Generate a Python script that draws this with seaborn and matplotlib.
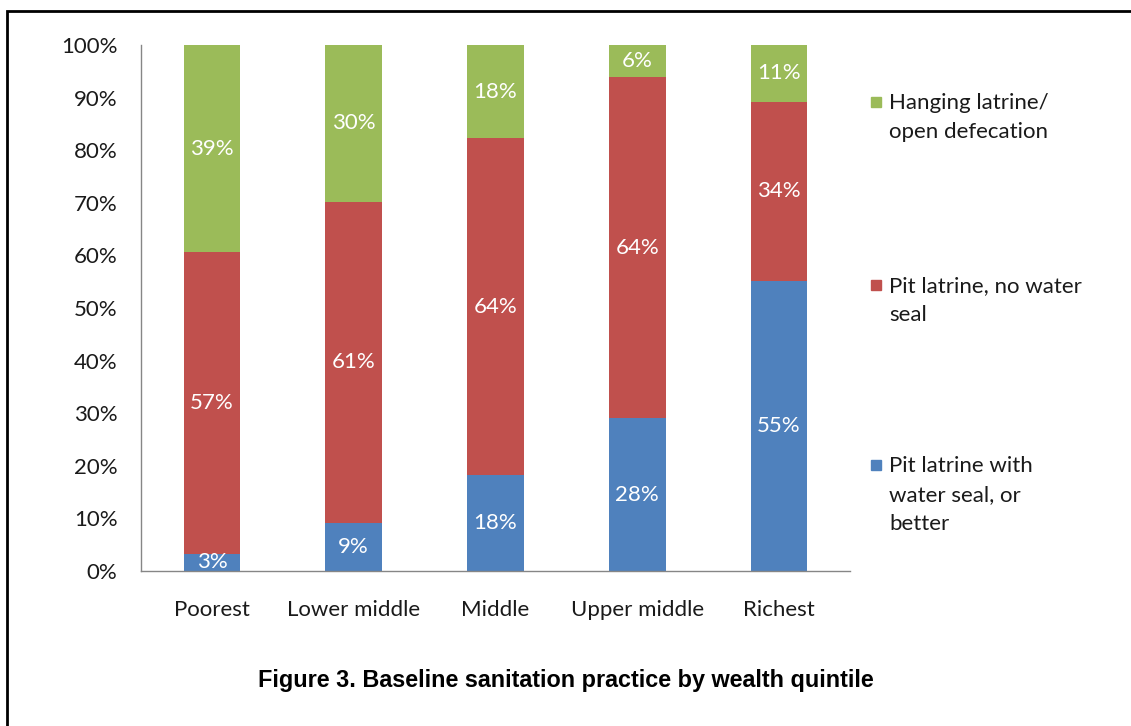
import matplotlib
matplotlib.use("Agg")
import matplotlib.pyplot as plt
from matplotlib.patches import Rectangle
import seaborn as sns
import pandas as pd

categories = ["Poorest", "Lower middle", "Middle", "Upper middle", "Richest"]
water_seal = [3.3, 9.2, 18.2, 29.0, 55.1]          # Pit latrine with water seal, or better
no_seal = [57.3, 61.0, 64.1, 64.9, 34.1]           # Pit latrine, no water seal
open_def = [39.4, 29.8, 17.7, 6.1, 10.8]           # Hanging latrine / open defecation
label_water = ["3%", "9%", "18%", "28%", "55%"]
label_noseal = ["57%", "61%", "64%", "64%", "34%"]
label_open = ["39%", "30%", "18%", "6%", "11%"]
series_names = ["Pit latrine with\nwater seal, or\nbetter",
                "Pit latrine, no water\nseal",
                "Hanging latrine/\nopen defecation"]
colors = ["#4F81BD", "#C0504D", "#9BBB59"]
y_ticks = [0, 10, 20, 30, 40, 50, 60, 70, 80, 90, 100]
title = "Figure 3. Baseline sanitation practice by wealth quintile"

sns.set_theme(style="white")
plt.rcParams["font.family"] = ["Lato", "DejaVu Sans"]

W, H = 1131, 726
fig = plt.figure(figsize=(W / 100, H / 100), dpi=100)
ax = fig.add_axes([141 / W, 1 - 571 / H, (850 - 141) / W, (571 - 45) / H])

bottoms = [0] * len(categories)
layers = [(water_seal, label_water), (no_seal, label_noseal), (open_def, label_open)]
for (vals, labs), col in zip(layers, colors):
    d = pd.DataFrame({"cat": categories, "v": vals})
    sns.barplot(data=d, x="cat", y="v", order=categories, color=col, width=0.4,
                bottom=bottoms, saturation=1, ax=ax, linewidth=0, errorbar=None)
    for i, (v, lab) in enumerate(zip(vals, labs)):
        ax.text(i, bottoms[i] + v / 2, lab, ha="center", va="center",
                color="white", fontsize=16)
    bottoms = [b + v for b, v in zip(bottoms, vals)]

ax.set_xlim(-0.5, len(categories) - 0.5)
ax.set_ylim(0, 100)
ax.set_yticks(y_ticks)
ax.set_yticklabels([f"{t}%" for t in y_ticks], fontsize=16, color="#1a1a1a")
ax.set_xticks(range(len(categories)))
ax.set_xticklabels(categories, fontsize=16, color="#1a1a1a")
ax.set_xticks([i - 0.5 for i in range(len(categories) + 1)], minor=True)
ax.tick_params(axis="x", which="major", length=0, pad=21)
ax.tick_params(axis="x", which="minor", length=6, width=1, color="#868686", direction="out")
ax.tick_params(axis="y", which="major", length=6, width=1, color="#868686", direction="out", pad=11)
ax.set_xlabel("")
ax.set_ylabel("")
for s in ["top", "right"]:
    ax.spines[s].set_visible(False)
for s in ["left", "bottom"]:
    ax.spines[s].set_color("#868686")
    ax.spines[s].set_linewidth(1)

# legend (Excel-style: marker next to first line)
leg_y = [102, 285, 465]
leg_order = [2, 1, 0]
for y, idx in zip(leg_y, leg_order):
    fig.patches.append(Rectangle((871 / W, 1 - (y + 5) / H), 10 / W, 10 / H,
                                 transform=fig.transFigure, color=colors[idx]))
    fig.text(889 / W, 1 - (y - 9) / H, series_names[idx], ha="left", va="top",
             fontsize=16, color="#1a1a1a", linespacing=1.55)

fig.text(0.5, 1 - 680 / H, title, ha="center", va="center", fontsize=16.8,
         fontweight="bold", family="Liberation Sans", color="black")

# outer border (top and left visible)
fig.patches.append(Rectangle((7 / W, -0.05), 1.2, 1 - 11 / H + 0.05,
                             transform=fig.transFigure, fill=False,
                             edgecolor="black", linewidth=2))

fig.savefig("out.png", dpi=100)
